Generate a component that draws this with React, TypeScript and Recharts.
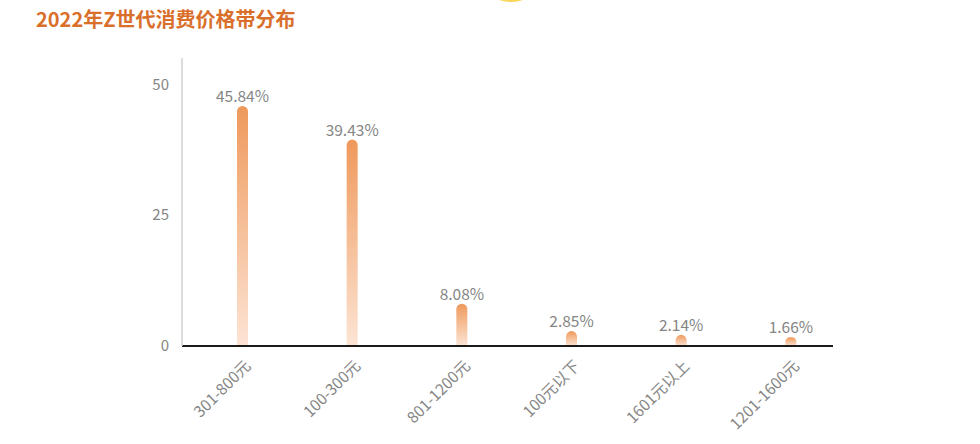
import { Bar, BarChart, LabelList, XAxis, YAxis } from "recharts";

const categories = ["301-800元", "100-300元", "801-1200元", "100元以下", "1601元以上", "1201-1600元"];
const shares = [45.84, 39.43, 8.08, 2.85, 2.14, 1.66];
const yTicks = [0, 25, 50];

const data = categories.map((name, i) => ({ name, value: shares[i] }));

const FONT = '"Noto Sans CJK SC", "Noto Sans", sans-serif';

const AngledTick = (props: any) => {
  const { x, y, payload } = props;
  return (
    <g transform={`translate(${x + 9},${y + 13})`}>
      <text
        transform="rotate(-45)"
        textAnchor="end"
        fill="#858585"
        fontSize={15.5}
        fontFamily={FONT}
      >
        {payload.value}
      </text>
    </g>
  );
};

const App = () => {
  return (
    <div
      style={{
        position: "absolute",
        left: 0,
        top: 0,
        width: 980,
        height: 444,
        overflow: "hidden",
        background: "#fff",
        fontFamily: FONT,
      }}
    >
      {/* yellow decoration peeking in at the top edge */}
      <div
        style={{
          position: "absolute",
          left: 484,
          top: -40,
          width: 54,
          height: 42,
          borderRadius: "50%",
          background: "#f9d75a",
        }}
      />
      <div
        style={{
          position: "absolute",
          left: 36,
          top: 7,
          fontSize: 20,
          lineHeight: "24px",
          fontWeight: 700,
          color: "#d96f2b",
          whiteSpace: "nowrap",
        }}
      >
        2022年Z世代消费价格带分布
      </div>
      <BarChart
        width={980}
        height={444}
        data={data}
        margin={{ top: 58, right: 147, bottom: 8, left: 0 }}
        style={{ position: "absolute", left: 0, top: 0 }}
      >
        <defs>
          <linearGradient id="barFill" x1="0" y1="0" x2="0" y2="1">
            <stop offset="0%" stopColor="#ef995b" />
            <stop offset="100%" stopColor="#fce4d4" />
          </linearGradient>
        </defs>
        <XAxis
          dataKey="name"
          interval={0}
          height={90}
          padding={{ left: 6, right: -13 }}
          axisLine={{ stroke: "#1a1a1a", strokeWidth: 2 }}
          tickLine={false}
          tick={<AngledTick />}
        />
        <YAxis
          width={182}
          domain={[0, 55]}
          ticks={yTicks}
          interval={0}
          axisLine={{ stroke: "#d0d0d0", strokeWidth: 1.5 }}
          tickLine={false}
          tickMargin={7}
          tick={{ fill: "#858585", fontSize: 15, fontFamily: FONT }}
        />
        <Bar
          dataKey="value"
          fill="url(#barFill)"
          barSize={11}
          radius={[5.5, 5.5, 0, 0]}
          isAnimationActive={false}
        >
          <LabelList
            dataKey="value"
            position="top"
            offset={4}
            formatter={(v: any) => `${Number(v).toFixed(2)}%`}
            fill="#858585"
            fontSize={15.5}
            fontFamily={FONT}
          />
        </Bar>
      </BarChart>
    </div>
  );
};

export default App;
